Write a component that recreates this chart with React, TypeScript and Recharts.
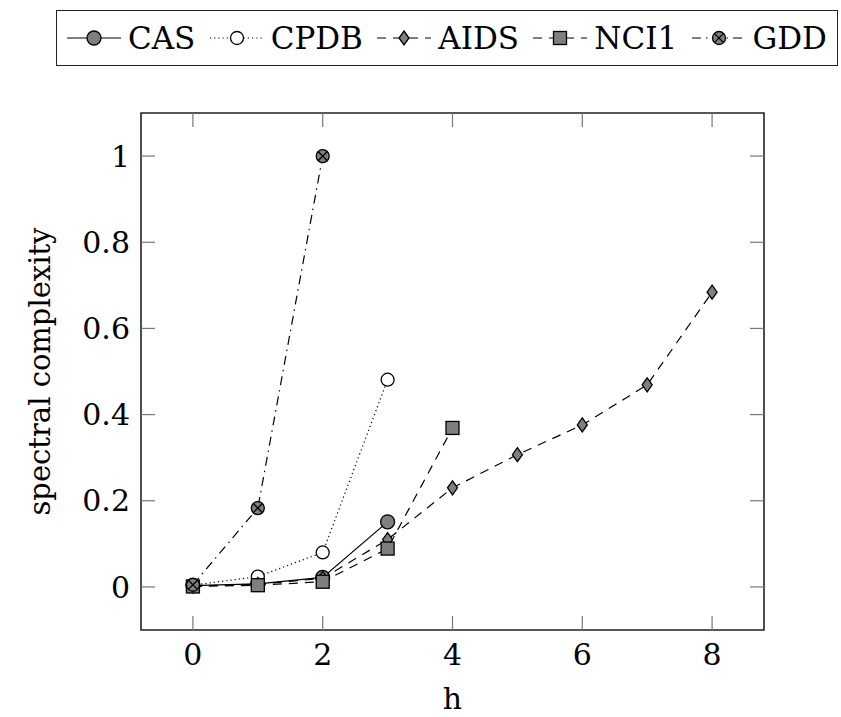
import { LineChart, Line, XAxis, YAxis, ReferenceArea, ReferenceLine } from 'recharts';

const hValues = [0, 1, 2, 3, 4, 5, 6, 7, 8];
const casValues = [0.003, 0.007, 0.022, 0.151];
const cpdbValues = [0.004, 0.024, 0.08, 0.481];
const aidsValues = [0.002, 0.006, 0.02, 0.11, 0.23, 0.307, 0.376, 0.469, 0.684];
const nci1Values = [0.001, 0.004, 0.012, 0.089, 0.369];
const gddValues = [0.005, 0.183, 1.0];

const xTicks = [0, 2, 4, 6, 8];
const yTicks = [0, 0.2, 0.4, 0.6, 0.8, 1];
const xDomain: [number, number] = [-0.8, 8.8];
const yDomain: [number, number] = [-0.1, 1.1];

const data = hValues.map((h, i) => ({
    h,
    CAS: casValues[i],
    CPDB: cpdbValues[i],
    AIDS: aidsValues[i],
    NCI1: nci1Values[i],
    GDD: gddValues[i],
}));

type Shape = 'circle' | 'open' | 'diamond' | 'square' | 'otimes';

const series: { key: string; dash?: string; shape: Shape }[] = [
    { key: 'CAS', shape: 'circle' },
    { key: 'CPDB', dash: '1.2 3', shape: 'open' },
    { key: 'AIDS', dash: '9 7', shape: 'diamond' },
    { key: 'NCI1', dash: '9 7', shape: 'square' },
    { key: 'GDD', dash: '9 5 1.5 5', shape: 'otimes' },
];

const GRAY = '#7f7f7f';
// only serif face that actually resolves in the sandbox
const FONT = "'DejaVu Serif', serif";

function Marker({ shape, cx, cy }: { shape: Shape; cx: number; cy: number }) {
    const sw = 1.3;
    if (shape === 'circle') return <circle cx={cx} cy={cy} r={7} fill={GRAY} stroke="#000" strokeWidth={sw} />;
    if (shape === 'open') return <circle cx={cx} cy={cy} r={6.5} fill="#fff" stroke="#000" strokeWidth={sw} />;
    if (shape === 'diamond')
        return (
            <polygon
                points={`${cx},${cy - 7} ${cx + 5},${cy} ${cx},${cy + 7} ${cx - 5},${cy}`}
                fill={GRAY}
                stroke="#000"
                strokeWidth={sw}
            />
        );
    if (shape === 'square')
        return <rect x={cx - 6.5} y={cy - 6.5} width={13} height={13} fill={GRAY} stroke="#000" strokeWidth={sw} />;
    const d = 6.5 * Math.SQRT1_2;
    return (
        <g>
            <circle cx={cx} cy={cy} r={6.5} fill={GRAY} stroke="#000" strokeWidth={sw} />
            <line x1={cx - d} y1={cy - d} x2={cx + d} y2={cy + d} stroke="#000" strokeWidth={sw} />
            <line x1={cx - d} y1={cy + d} x2={cx + d} y2={cy - d} stroke="#000" strokeWidth={sw} />
        </g>
    );
}

function LegendSample({ dash, shape }: { dash?: string; shape: Shape }) {
    return (
        <svg width={54} height={20} style={{ display: 'block' }}>
            <line x1={0} y1={10} x2={54} y2={10} stroke="#000" strokeWidth={1.2} strokeDasharray={dash} />
            <Marker shape={shape} cx={27} cy={10} />
        </svg>
    );
}

const tickStyle = { fontSize: 30, fontFamily: FONT, fill: '#000' };
const labelStyle = { fontSize: 29, fontFamily: FONT, fill: '#000' };
const xTickLen = 0.216;
const yTickLen = 0.0325;

export default function App() {
    return (
        <div style={{ position: 'absolute', left: 0, top: 0, width: 841, height: 717, background: '#fff' }}>
            <div
                style={{
                    position: 'absolute',
                    left: 56,
                    top: 10,
                    width: 782,
                    height: 56,
                    border: '1.5px solid #222',
                    display: 'flex',
                    alignItems: 'center',
                    justifyContent: 'space-between',
                    paddingLeft: 10,
                    paddingRight: 10,
                    boxSizing: 'border-box',
                    fontFamily: FONT,
                    fontSize: 31,
                    whiteSpace: 'nowrap',
                }}
            >
                {series.map((s) => (
                    <div key={s.key} style={{ display: 'flex', alignItems: 'center' }}>
                        <LegendSample dash={s.dash} shape={s.shape} />
                        <span style={{ marginLeft: 7 }}>{s.key}</span>
                    </div>
                ))}
            </div>
            <LineChart width={841} height={717} data={data} margin={{ top: 113, right: 77, left: 0, bottom: 0 }}>
                <XAxis
                    dataKey="h"
                    type="number"
                    domain={xDomain}
                    ticks={xTicks}
                    allowDataOverflow
                    height={87}
                    tickLine={false}
                    axisLine={false}
                    tickSize={0}
                    tickMargin={14}
                    tick={tickStyle}
                    label={{ value: 'h', position: 'insideBottom', offset: 8, style: { ...labelStyle, fontSize: 30 } }}
                />
                <YAxis
                    type="number"
                    domain={yDomain}
                    ticks={yTicks}
                    allowDataOverflow
                    width={141}
                    tickLine={false}
                    axisLine={false}
                    tickSize={0}
                    tickMargin={11}
                    tick={tickStyle}
                    label={{
                        value: 'spectral complexity',
                        angle: -90,
                        position: 'insideLeft',
                        offset: 40,
                        textAnchor: 'middle',
                        style: { ...labelStyle, textAnchor: 'middle' },
                    }}
                />
                {yTicks.map((t) => (
                    <ReferenceLine
                        key={'yl' + t}
                        segment={[{ x: xDomain[0], y: t }, { x: xDomain[0] + xTickLen, y: t }]}
                        stroke="#777"
                        strokeWidth={1.2}
                    />
                ))}
                {yTicks.map((t) => (
                    <ReferenceLine
                        key={'yr' + t}
                        segment={[{ x: xDomain[1] - xTickLen, y: t }, { x: xDomain[1], y: t }]}
                        stroke="#777"
                        strokeWidth={1.2}
                    />
                ))}
                {xTicks.map((t) => (
                    <ReferenceLine
                        key={'xb' + t}
                        segment={[{ x: t, y: yDomain[0] }, { x: t, y: yDomain[0] + yTickLen }]}
                        stroke="#777"
                        strokeWidth={1.2}
                    />
                ))}
                {xTicks.map((t) => (
                    <ReferenceLine
                        key={'xt' + t}
                        segment={[{ x: t, y: yDomain[1] - yTickLen }, { x: t, y: yDomain[1] }]}
                        stroke="#777"
                        strokeWidth={1.2}
                    />
                ))}
                <ReferenceArea
                    x1={xDomain[0]}
                    x2={xDomain[1]}
                    y1={yDomain[0]}
                    y2={yDomain[1]}
                    fill="none"
                    fillOpacity={0}
                    stroke="#222"
                    strokeWidth={1.6}
                />
                {series.map((s) => (
                    <Line
                        key={s.key}
                        dataKey={s.key}
                        type="linear"
                        stroke="#000"
                        strokeWidth={1.2}
                        strokeDasharray={s.dash}
                        isAnimationActive={false}
                        activeDot={false}
                        dot={(p: any) =>
                            p.cy == null || p.value == null ? (
                                <g key={p.index} />
                            ) : (
                                <g key={p.index}>
                                    <Marker shape={s.shape} cx={p.cx} cy={p.cy} />
                                </g>
                            )
                        }
                    />
                ))}
            </LineChart>
        </div>
    );
}
